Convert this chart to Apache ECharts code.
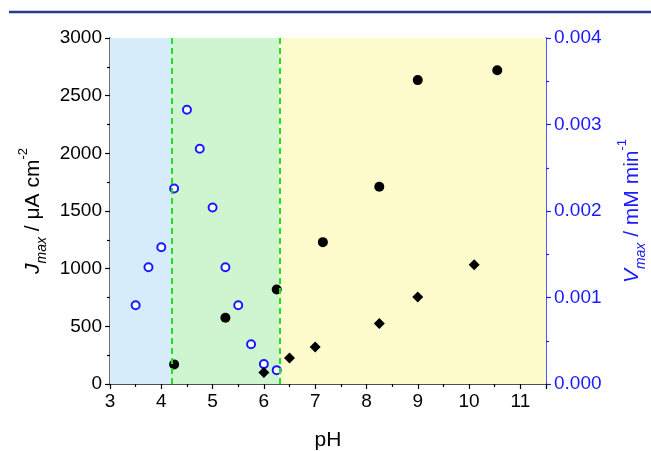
<!DOCTYPE html>
<html><head><meta charset="utf-8">
<script src="https://cdn.jsdelivr.net/npm/echarts@6/dist/echarts.min.js"></script>
<style>html,body{margin:0;padding:0;background:#fff}#c{width:651px;height:451px}</style>
</head><body><div id="c"></div>
<script>
const jCirclePH = [4.25, 5.25, 6.25, 7.15, 8.25, 9.0, 10.55];
const jCircleVal = [170, 575, 820, 1230, 1710, 2635, 2720];
const jDiamondPH = [6.0, 6.5, 7.0, 8.25, 9.0, 10.1];
const jDiamondVal = [100, 225, 320, 525, 755, 1035];
const vPH = [3.5, 3.75, 4.0, 4.25, 4.5, 4.75, 5.0, 5.25, 5.5, 5.75, 6.0, 6.25];
const vVal = [0.00091, 0.00135, 0.00158, 0.00226, 0.00317, 0.00272, 0.00204, 0.00135, 0.00091, 0.00046, 0.00023, 0.00016];
const regions = [[3, 4.2], [4.2, 6.3], [6.3, 11.5]];
const regionColors = ['#d7ecfb', '#cef5d0', '#fefccc'];
const boundaries = [4.2, 6.3];
const xTicks = [3, 4, 5, 6, 7, 8, 9, 10, 11];

const zip = (a, b) => a.map((v, i) => [v, b[i]]);
const FONT = '"Liberation Sans", Arial, sans-serif';
const BLUE = '#1a1aff';

const chart = echarts.init(document.getElementById('c'), null, {renderer: 'canvas'});
const nameRich = (color) => ({
  i: {fontSize: 21, fontStyle: 'italic', color, fontFamily: FONT},
  sub: {fontSize: 14, fontStyle: 'italic', color, fontFamily: FONT, verticalAlign: 'bottom', lineHeight: 32},
  n: {fontSize: 21, color, fontFamily: FONT},
  sup: {fontSize: 13, color, fontFamily: FONT, verticalAlign: 'top', lineHeight: 32}
});
chart.setOption({
  animation: false,
  textStyle: {fontFamily: FONT},
  graphic: [{
    type: 'line', shape: {x1: 9, y1: 12, x2: 651, y2: 12},
    style: {stroke: '#2b3a8c', lineWidth: 2.5}
  }],
  grid: {left: 110, right: 105, top: 38, bottom: 67, containLabel: false, outerBoundsMode: 'none'},
  xAxis: [{
    type: 'value', min: xTicks[0], max: 11.5, interval: 1,
    name: 'pH', nameLocation: 'middle', nameGap: 46,
    nameTextStyle: {fontSize: 21, color: '#000', fontFamily: FONT},
    axisLine: {lineStyle: {color: '#000', width: 1.5}},
    axisTick: {inside: false, length: 5, lineStyle: {color: '#000', width: 1.2}},
    minorTick: {show: true, splitNumber: 2, length: 3, lineStyle: {color: '#000', width: 1.2}},
    splitLine: {show: false},
    axisLabel: {fontSize: 19, color: '#000', margin: 8, fontFamily: FONT}
  }, {
    type: 'value', position: 'top', min: xTicks[0], max: 11.5,
    axisLine: {show: true, lineStyle: {color: '#555', width: 1.5}},
    axisTick: {show: false}, axisLabel: {show: false}, splitLine: {show: false}
  }],
  yAxis: [{
    type: 'value', min: 0, max: 3000, interval: 500,
    name: '{i|J}{sub|max}{n| / μA cm}{sup|-2}', nameLocation: 'middle', nameRotate: 90, nameGap: 52,
    nameTextStyle: {rich: nameRich('#000')},
    axisLine: {show: true, lineStyle: {color: '#444', width: 1.5}},
    axisTick: {inside: false, length: 5, lineStyle: {color: '#000', width: 1.2}},
    minorTick: {show: true, splitNumber: 2, length: 3, lineStyle: {color: '#000', width: 1.2}},
    splitLine: {show: false},
    axisLabel: {fontSize: 19, color: '#000', margin: 8, fontFamily: FONT, formatter: v => String(v)}
  }, {
    type: 'value', position: 'right', min: 0, max: 0.004, interval: 0.001,
    name: '{i|V}{sub|max}{n| / mM min}{sup|-1}', nameLocation: 'middle', nameRotate: 90, nameGap: 70,
    nameTextStyle: {rich: nameRich(BLUE)},
    axisLine: {show: true, lineStyle: {color: BLUE, width: 1.5}},
    axisTick: {inside: false, length: 5, lineStyle: {color: BLUE, width: 1.2}},
    minorTick: {show: true, splitNumber: 2, length: 3, lineStyle: {color: BLUE, width: 1.2}},
    splitLine: {show: false},
    axisLabel: {fontSize: 19, color: BLUE, margin: 8, fontFamily: FONT, formatter: v => v.toFixed(3)}
  }],
  series: [{
    type: 'scatter', data: [], silent: true, z: 1,
    markArea: {
      silent: true,
      data: regions.map((r, i) => [{xAxis: r[0], itemStyle: {color: regionColors[i], opacity: 1}}, {xAxis: r[1]}])
    },
    markLine: {
      silent: true, symbol: 'none', label: {show: false},
      lineStyle: {color: '#22dd22', type: [6, 4], width: 2, opacity: 1},
      data: boundaries.map(b => ({xAxis: b}))
    }
  }, {
    type: 'scatter', yAxisIndex: 1, z: 3,
    data: zip(vPH, vVal), symbol: 'circle', symbolSize: 8,
    itemStyle: {color: '#fff', borderColor: BLUE, borderWidth: 2, opacity: 1}
  }, {
    type: 'scatter', z: 4,
    data: zip(jCirclePH, jCircleVal), symbol: 'circle', symbolSize: 10,
    itemStyle: {color: '#000', opacity: 1}
  }, {
    type: 'scatter', z: 4,
    data: zip(jDiamondPH, jDiamondVal), symbol: 'diamond', symbolSize: 11,
    itemStyle: {color: '#000', opacity: 1}
  }]
});
</script></body></html>
